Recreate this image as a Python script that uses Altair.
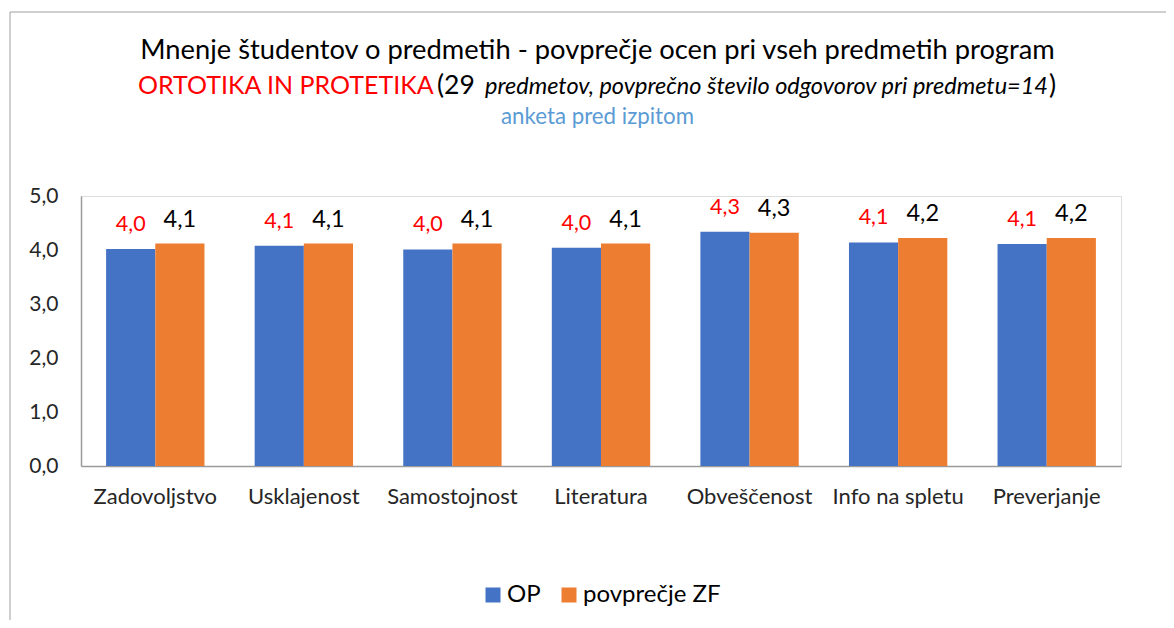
import altair as alt
import pandas as pd

categories = ["Zadovoljstvo", "Usklajenost", "Samostojnost", "Literatura",
              "Obveščenost", "Info na spletu", "Preverjanje"]
series_names = ["OP", "povprečje ZF"]
op_values = [4.02, 4.08, 4.01, 4.04, 4.34, 4.14, 4.11]
zf_values = [4.12, 4.12, 4.12, 4.12, 4.32, 4.22, 4.22]
series_colors = ["#4472C4", "#ED7D31"]
y_ticks = [0, 1, 2, 3, 4, 5]

title_line1 = ["Mnenje študentov o predmetih - povprečje ocen pri vseh predmetih program"]
title_program = ["ORTOTIKA IN PROTETIKA"]
title_open = ["(29"]
title_italic = ["predmetov, povprečno število odgovorov pri predmetu=14"]
title_close = [")"]
subtitle = ["anketa pred izpitom"]

rows = []
for s, vals in zip(series_names, [op_values, zf_values]):
    for c, v in zip(categories, vals):
        rows.append({"cat": c, "series": s, "value": v,
                     "label": f"{v:.1f}".replace(".", ",")})
df = pd.DataFrame(rows)

FONT = "Lato"
AXIS_GREY = "#9A9A9A"

x_enc = alt.X("cat:N", sort=categories,
              scale=alt.Scale(paddingInner=0.338, paddingOuter=0.169),
              axis=alt.Axis(title=None, labelAngle=0, labelFontSize=22,
                            labelColor="#262626", labelPadding=20, ticks=False,
                            tickSize=0, domainColor=AXIS_GREY, domainWidth=1.5,
                            labelFont=FONT))
xoff = alt.XOffset("series:N", sort=series_names,
                   scale=alt.Scale(paddingInner=0, paddingOuter=0))
y_enc = alt.Y("value:Q", scale=alt.Scale(domain=[0, 5], nice=False),
              axis=alt.Axis(title=None, values=y_ticks,
                            labelExpr="replace(format(datum.value, '.1f'), '.', ',')",
                            grid=False, ticks=False, tickSize=0, labelPadding=23,
                            labelFontSize=21, labelColor="#262626",
                            domainColor=AXIS_GREY, domainWidth=1.5, labelFont=FONT))

base = alt.Chart(df)

bars = base.mark_bar().encode(
    x=x_enc, xOffset=xoff, y=y_enc,
    color=alt.Color("series:N", sort=series_names,
                    scale=alt.Scale(domain=series_names, range=series_colors),
                    legend=alt.Legend(title=None, orient="none", legendX=400, legendY=387,
                                      direction="horizontal", symbolType="square",
                                      symbolSize=225, symbolStrokeWidth=0,
                                      labelFontSize=24, labelFont=FONT,
                                      labelColor="#000000", labelOffset=2,
                                      columnPadding=16)))

op_labels = base.transform_filter(alt.datum.series == "OP").mark_text(
    font=FONT, fontSize=21.5, color="#FF0000", dy=-24, baseline="middle"
).encode(x=alt.X("cat:N", sort=categories), xOffset=xoff, y="value:Q", text="label:N")

zf_labels = base.transform_filter(alt.datum.series == "povprečje ZF").mark_text(
    font=FONT, fontSize=23.5, color="#000000", dy=-24, baseline="middle"
).encode(x=alt.X("cat:N", sort=categories), xOffset=xoff, y="value:Q", text="label:N")


def text_layer(values, x, y, size, color, align="left", style="normal"):
    return alt.Chart(pd.DataFrame({"t": values})).mark_text(
        font=FONT, fontSize=size, color=color, align=align,
        baseline="alphabetic", fontStyle=style
    ).encode(text="t:N", x=alt.value(x), y=alt.value(y))


t1 = text_layer(title_line1, 516.5, -136.7, 27.3, "#000000", align="center")
t2a = text_layer(title_program, 57, -101.7, 25, "#FF0000")
t2b = text_layer(title_open, 356, -101.7, 26.5, "#000000")
t2c = text_layer(title_italic, 404, -101.7, 23.5, "#000000", style="italic")
t2d = text_layer(title_close, 968, -101.7, 26.5, "#000000")
t3 = text_layer(subtitle, 516.5, -72, 22.3, "#5B9BD5", align="center")

border = alt.Chart(pd.DataFrame({"a": [0]})).mark_rect(
    fillOpacity=0, stroke="#A0A0A0", strokeWidth=1
).encode(x=alt.value(-71), x2=alt.value(1300), y=alt.value(-184), y2=alt.value(700))

chart = alt.layer(border, bars, op_labels, zf_labels, t1, t2a, t2b, t2c, t2d, t3).properties(
    width=1040, height=270,
    autosize=alt.AutoSizeParams(type="none"),
    padding={"left": 73, "top": 188, "right": 45, "bottom": 154},
).configure_view(strokeWidth=0).configure(background="#FFFFFF")

chart.save("out.html", embed_options={"renderer": "svg", "actions": False})
